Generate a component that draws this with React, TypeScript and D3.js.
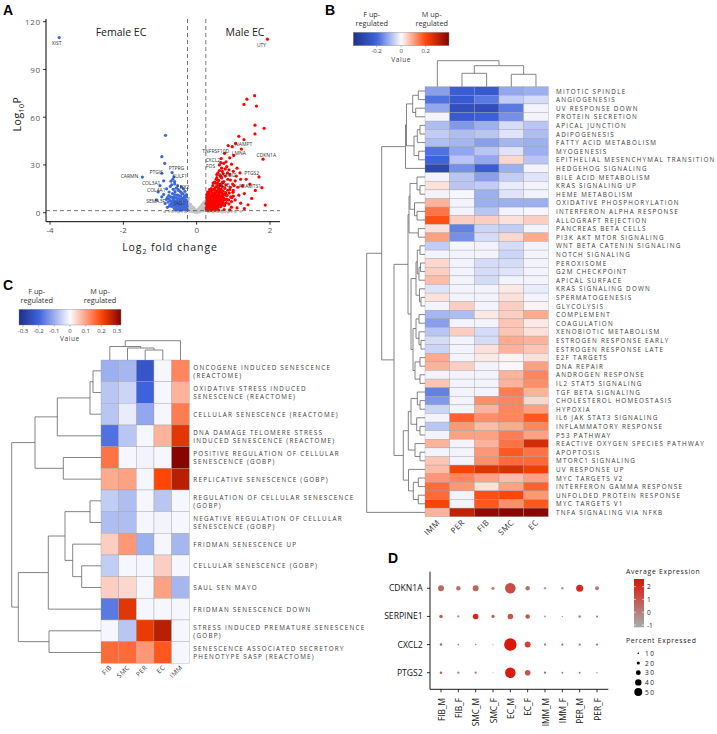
import React from "react";
import * as d3 from "d3";

const FONT = "'Open Sans', 'DejaVu Sans', sans-serif";

// ---------------- A: volcano (log2 fold change, -log10 P) ----------------
const redPts: [number, number][] = [
  [1.93,109],[1.58,73.5],[1.37,71.3],[1.29,68],[1.63,67],[1.59,55],[1.84,53],[1.59,49.5],[1.15,48],[1.29,46],[1.06,43.5],[0.86,42.2],[0.97,41.5],[1.81,33.6],[0.76,37.3],[0.9,34.5],[1.22,40],[1.01,36],[0.67,34],[1.78,15.7],[1.87,4.8],[1.7,22.5],
  [0.62,30],[0.74,31],[0.82,29],[0.95,30.5],[1.1,28],[1.18,25],[1.35,21],[1.45,18],[1.6,14],[1.3,12],[1.5,9],[1.05,20],[0.9,24],[0.7,26],[0.58,25],[0.55,22],[0.78,23],[0.85,21],[0.98,18],[1.12,16],[1.25,17],[1.0,14],[1.15,11],[0.93,10],[1.05,8],[1.2,6],[1.4,5],[0.95,3.5],[0.88,5.5],[1.3,2.5],[0.72,19],[0.65,17],[0.5,19],[0.6,14],[1.08,23],[1.2,21],[0.8,32],[0.68,28],[0.88,27],[1.0,26],[0.75,2],[0.9,1.8],[1.1,3],
  [0.27,2.1],[0.27,5.3],[0.28,3.4],[0.28,8.2],[0.29,1.9],[0.29,6.6],[0.3,4.2],[0.3,10.1],[0.31,2.8],[0.31,7.4],[0.32,5.1],[0.32,12.0],[0.33,3.3],[0.33,8.9],[0.34,1.7],[0.34,6.2],[0.35,4.6],[0.35,11.3],[0.36,2.5],[0.36,9.4],[0.37,7.0],[0.37,13.8],[0.38,3.8],[0.38,5.7],[0.39,10.6],[0.39,2.2],[0.4,8.0],[0.4,15.2],[0.41,4.4],[0.41,6.9],[0.42,12.7],[0.42,3.0],[0.43,9.8],[0.43,5.5],[0.44,17.0],[0.44,2.6],[0.45,7.7],[0.45,11.9],[0.46,4.1],[0.46,14.4],[0.47,6.3],[0.47,9.1],[0.48,3.4],[0.48,19.2],[0.49,12.2],[0.49,5.0],[0.5,8.5],[0.5,2.3],[0.51,15.8],[0.51,6.8],[0.52,10.4],[0.52,4.0],[0.53,13.1],[0.53,21.0],[0.54,7.3],[0.54,3.1],[0.55,11.0],[0.55,16.9],[0.56,5.6],[0.56,8.8],[0.57,14.0],[0.57,2.7],[0.58,9.6],[0.58,18.4],[0.59,6.1],[0.59,12.5],[0.6,4.3],[0.6,20.3],[0.61,10.8],[0.61,7.5],[0.62,15.0],[0.62,3.6],[0.63,23.5],[0.63,9.2],[0.64,5.2],[0.64,12.9],[0.65,17.8],[0.66,7.1],[0.66,10.3],[0.67,14.6],[0.67,4.8],[0.68,21.9],[0.69,8.6],[0.69,12.0],[0.7,5.9],[0.7,16.4],[0.71,10.0],[0.72,13.5],[0.73,7.8],[0.74,19.6],[0.75,11.2],[0.76,4.5],[0.77,15.3],[0.78,8.4],[0.79,12.6],[0.8,17.5],[0.81,6.4],[0.83,10.9],[0.85,14.1],[0.87,8.0],[0.89,12.3],[0.92,16.0],[0.96,9.5],[0.99,12.8],[0.3,1.6],[0.4,1.5],[0.5,1.6],[0.6,1.7],[0.35,14.5],[0.45,18.6],[0.55,24],[0.62,26.5],[0.72,24.5],[0.78,27.5],[0.84,25],[0.92,20.5],[1.02,17],[0.66,31.5],
  [0.26,3.0],[0.26,6.0],[0.27,9.5],[0.28,11.5],[0.29,4.5],[0.3,13.0],[0.31,1.9],[0.32,7.0],[0.33,5.8],[0.34,12.8],[0.35,2.0],[0.36,6.8],[0.37,3.5],[0.38,11.0],[0.39,8.0],[0.4,4.9],[0.41,13.5],[0.42,6.0],[0.43,2.2],[0.44,10.8],[0.45,5.0],[0.46,9.6],[0.47,2.9],[0.48,14.8],[0.49,7.2],[0.5,10.9],[0.51,3.7],[0.52,13.6],[0.53,5.9],[0.54,9.9],[0.55,3.6],[0.56,12.9],[0.57,7.0],[0.58,4.0],[0.59,15.6],[0.6,11.5],[0.61,5.3],[0.62,8.7],[0.63,13.9],[0.64,7.0],[0.65,10.2],[0.66,4.0],[0.67,8.4],[0.68,13.0],[0.69,5.0],[0.7,9.8],[0.72,6.6],[0.73,11.4],[0.75,8.8],[0.77,5.6],[0.8,11.0],[0.82,8.5],[0.9,14.5],[0.95,7.0],[1.0,10.5],[0.52,18.5],[0.57,20.5],[0.66,22.5],[0.7,19.0],[0.58,16.5],
];
const bluePts: [number, number][] = [
  [-3.75,110],[-0.85,48.6],[-0.95,35.2],[-0.87,31],[-1.48,22.4],[-0.95,24.8],[-0.67,25.2],[-0.65,21],[-0.6,19.5],[-0.7,19.8],[-0.62,22.5],[-0.9,20],[-1.0,17],[-1.05,13],[-0.95,10],[-1.1,8],[-0.82,15],[-0.75,13],[-0.8,9.5],[-0.72,16.5],[-0.68,17.5],
  [-0.26,2.0],[-0.27,5.1],[-0.28,3.3],[-0.29,8.0],[-0.3,1.8],[-0.31,6.4],[-0.32,4.0],[-0.33,10.2],[-0.34,2.6],[-0.35,7.5],[-0.36,5.0],[-0.37,11.8],[-0.38,3.2],[-0.39,9.0],[-0.4,1.9],[-0.41,6.1],[-0.42,4.5],[-0.43,12.9],[-0.44,2.4],[-0.45,8.2],[-0.46,6.8],[-0.47,10.5],[-0.48,3.7],[-0.49,5.6],[-0.5,14.1],[-0.51,2.1],[-0.52,7.9],[-0.53,4.3],[-0.54,11.1],[-0.55,6.0],[-0.56,3.0],[-0.57,9.4],[-0.58,5.2],[-0.59,13.2],[-0.6,7.0],[-0.61,2.7],[-0.62,10.0],[-0.63,4.8],[-0.64,8.6],[-0.65,6.3],[-0.66,12.0],[-0.67,3.9],[-0.68,9.7],[-0.7,5.5],[-0.72,7.6],[-0.74,4.1],[-0.76,10.8],[-0.78,6.7],[-0.8,3.4],[-0.83,8.3],[-0.86,5.8],[-0.9,11.5],[-0.28,11.3],[-0.32,13.4],[-0.36,15.0],[-0.42,16.2],[-0.47,13.8],[-0.52,17.0],[-0.56,15.4],[-0.6,18.1],[-0.64,14.7],[-0.35,2.1],[-0.45,1.6],[-0.55,1.7],
  [-0.26,4.0],[-0.27,7.0],[-0.29,2.8],[-0.3,10.0],[-0.31,4.8],[-0.33,6.9],[-0.34,9.3],[-0.36,3.6],[-0.37,8.4],[-0.39,5.6],[-0.4,12.0],[-0.41,3.0],[-0.43,7.7],[-0.44,10.4],[-0.46,4.4],[-0.48,8.9],[-0.5,5.2],[-0.51,11.0],[-0.53,6.5],[-0.55,9.2],[-0.57,3.8],[-0.58,7.3],[-0.6,11.4],[-0.62,5.9],[-0.63,8.0],[-0.66,4.6],[-0.69,7.0],[-0.71,9.9],[-0.73,5.0],[-0.77,8.7],
];
const greyPts: [number, number][] = [
  [-0.24,1.2],[-0.23,3.5],[-0.22,6.0],[-0.21,2.2],[-0.2,4.6],[-0.19,1.0],[-0.18,3.0],[-0.17,5.2],[-0.16,1.8],[-0.15,2.8],[-0.14,0.9],[-0.13,4.0],[-0.12,1.6],[-0.11,2.5],[-0.1,0.7],[-0.09,1.9],[-0.08,3.2],[-0.07,1.1],[-0.06,0.5],[-0.05,2.0],[-0.04,1.3],[-0.03,0.6],[-0.02,1.6],[-0.01,0.4],[0,1.0],[0.01,0.3],[0.02,1.4],[0.03,0.8],[0.04,2.1],[0.05,1.2],[0.06,0.5],[0.07,2.6],[0.08,1.5],[0.09,3.4],[0.1,0.9],[0.11,2.2],[0.12,4.1],[0.13,1.7],[0.14,3.0],[0.15,5.3],[0.16,2.0],[0.17,4.4],[0.18,1.1],[0.19,6.2],[0.2,3.3],[0.21,5.0],[0.22,2.4],[0.23,7.1],[0.24,4.0],[0.24,1.5],[-0.24,7.8],[-0.22,9.0],[-0.3,0.6],[-0.4,0.9],[-0.5,0.5],[-0.58,1.0],[-0.66,0.7],[-0.75,1.0],[-0.87,0.6],[0.32,0.7],[0.38,1.0],[0.45,0.5],[0.52,1.1],[0.58,0.6],[0.64,0.9],[0.7,0.4],[0.78,0.8],[0.86,0.5],[0.95,0.8],[1.05,0.6],[1.2,0.9],
];
// gene labels placed where they sit in the plot (fold change, -log10 P)
const geneLabels: [string, number, number][] = [
  ["XIST",-3.82,106.9],["UTY",1.77,105.5],["NAMPT",1.28,43.2],["TNFRSF10D",0.52,39.0],["LMNA",1.15,37.5],["CDKN1A",1.9,36.3],
  ["CXCL2",0.44,33.1],["FOS",0.38,29.4],["NFKBIZ",0.84,23.9],["PTGS2",1.5,25.2],["ADAMTS1",1.45,17.0],["RELB",0.74,17.4],
  ["PTGIS",-1.1,25.6],["PTPRG",-0.55,27.9],["CARMN",-1.83,23.3],["SULF1",-0.46,23.3],["COL3A1",-1.24,18.9],["LNX2",-0.37,16.4],
  ["COL4A1",-1.1,14.3],["SEMA3F",-1.12,7.4],["JAG1",-0.46,5.9],
];
const volcanoXTicks = [-4, -2, 0, 2];
const volcanoYTicks = [0, 30, 60, 90, 120];
const fcCut = 0.25;
const pCut = 1.3;

// ---------------- B: hallmark heatmap ----------------
const bCols = ["IMM", "PER", "FIB", "SMC", "EC"];
const bRows = [
  "MITOTIC SPINDLE","ANGIOGENESIS","UV RESPONSE DOWN","PROTEIN SECRETION","APICAL JUNCTION","ADIPOGENESIS","FATTY ACID METABOLISM","MYOGENESIS","EPITHELIAL MESENCHYMAL TRANSITION","HEDGEHOG SIGNALING",
  "BILE ACID METABOLISM","KRAS SIGNALING UP","HEME METABOLISM","OXIDATIVE PHOSPHORYLATION","INTERFERON ALPHA RESPONSE","ALLOGRAFT REJECTION","PANCREAS BETA CELLS","PI3K AKT MTOR SIGNALING","WNT BETA CATENIN SIGNALING","NOTCH SIGNALING",
  "PEROXISOME","G2M CHECKPOINT","APICAL SURFACE","KRAS SIGNALING DOWN","SPERMATOGENESIS","GLYCOLYSIS","COMPLEMENT","COAGULATION","XENOBIOTIC METABOLISM","ESTROGEN RESPONSE EARLY",
  "ESTROGEN RESPONSE LATE","E2F TARGETS","DNA REPAIR","ANDROGEN RESPONSE","IL2 STAT5 SIGNALING","TGF BETA SIGNALING","CHOLESTEROL HOMEOSTASIS","HYPOXIA","IL6 JAK STAT3 SIGNALING","INFLAMMATORY RESPONSE",
  "P53 PATHWAY","REACTIVE OXYGEN SPECIES PATHWAY","APOPTOSIS","MTORC1 SIGNALING","UV RESPONSE UP","MYC TARGETS V2","INTERFERON GAMMA RESPONSE","UNFOLDED PROTEIN RESPONSE","MYC TARGETS V1","TNFA SIGNALING VIA NFKB",
];
const bValues = [
  [-0.12,-0.22,-0.23,-0.11,-0.1],[-0.18,-0.23,-0.17,-0.06,-0.04],[-0.11,-0.27,-0.28,-0.17,-0.01],[-0.01,-0.23,-0.21,-0.14,-0.01],[-0.08,-0.13,-0.1,-0.04,-0.07],
  [-0.06,-0.08,-0.07,-0.03,-0.08],[-0.08,-0.09,-0.12,-0.09,-0.1],[-0.18,-0.11,-0.07,-0.03,-0.1],[-0.2,-0.07,-0.11,0.04,-0.07],[-0.3,-0.14,-0.22,-0.1,-0.01],
  [-0.01,-0.07,-0.12,-0.06,-0.03],[0.03,-0.07,-0.06,-0.02,-0.01],[-0.01,-0.005,-0.1,-0.03,-0.01],[0.08,-0.01,-0.1,-0.1,-0.1],[0.15,-0.01,-0.07,-0.01,-0.005],
  [0.19,0.05,0.05,0.03,0.05],[0.03,-0.16,-0.05,-0.06,-0.01],[0.1,-0.14,-0.04,0.04,0.09],[-0.06,-0.005,-0.01,-0.04,-0.01],[-0.01,-0.01,-0.01,-0.05,-0.01],
  [0.04,-0.01,-0.04,-0.04,-0.01],[0.05,-0.01,-0.04,-0.03,-0.01],[0.07,-0.01,-0.04,-0.01,-0.01],[-0.03,-0.01,-0.01,0.02,-0.02],[0.03,-0.01,-0.01,0.03,-0.01],
  [-0.01,0.05,-0.01,0.05,0.01],[-0.09,-0.08,0.02,0.05,0.09],[-0.12,-0.01,-0.01,0.06,0.02],[-0.07,0.05,-0.04,0.06,0.03],[-0.04,-0.01,-0.04,0.09,0.08],
  [-0.05,-0.01,0.03,0.08,0.06],[0.09,-0.01,0.02,0.01,0.03],[0.08,0.05,-0.01,0.005,0.1],[-0.01,-0.01,-0.01,0.08,0.13],[0.06,-0.01,-0.01,0.08,0.12],
  [-0.16,-0.01,-0.01,0.14,0.08],[-0.13,-0.01,0.12,0.13,0.04],[-0.05,-0.01,0.08,0.13,0.1],[-0.01,0.17,0.12,0.13,0.18],[-0.07,0.11,0.07,0.09,0.13],
  [-0.01,0.1,0.1,0.14,0.1],[0.08,-0.01,0.08,0.15,0.27],[-0.01,-0.01,0.11,0.18,0.15],[0.06,-0.01,0.12,0.16,0.16],[0.07,0.21,0.25,0.26,0.22],
  [0.11,0.13,0.1,0.07,0.1],[0.16,0.11,0.03,0.1,0.17],[0.16,-0.01,0.19,0.2,0.11],[0.21,-0.01,0.18,0.12,0.18],[0.08,0.3,0.37,0.38,0.38],
];
type Tree = number | [Tree, Tree, number];
const bRowTree: Tree = [
  [
    [[[[0,1,6.7],[2,3,9.3],12.3],[[[4,5,5],6,7.7],[7,8,6.3],11],18.5],9,19.5],
    [
      [
        [[[10,[11,12,5],8],[13,[14,15,8],10.5],15],[16,17,6.7],16],
        [[[[18,19,5],[[20,21,4.5],22,6],7.7],[23,[24,25,4],5.5],9],[[[26,27,6],[28,[29,30,4],6],9],[[31,32,5],[33,34,5],10],12],14],
        17,
      ],
      [[[[35,[36,37,5],7.7],[38,[39,40,5],8.3],14],[41,[42,43,5],10],16.7],[44,[[45,46,6.7],[47,48,6.7],11.7],16.5],21.7],
      31,
    ],
    43.3,
  ],
  49,
  58.3,
];
const bColTree: Tree = [0, [[1, 2, 13.4], [3, 4, 12.4], 21], 26];
const bLegendTicks = [-0.2, 0, 0.2];

// ---------------- C: senescence heatmap ----------------
const cCols = ["FIB", "SMC", "PER", "EC", "IMM"];
const cRows: string[][] = [
  ["ONCOGENE INDUCED SENESCENCE", "(REACTOME)"],
  ["OXIDATIVE STRESS INDUCED", "SENESCENCE (REACTOME)"],
  ["CELLULAR SENESCENCE (REACTOME)"],
  ["DNA DAMAGE TELOMERE STRESS", "INDUCED SENESCENCE (REACTOME)"],
  ["POSITIVE REGULATION OF CELLULAR", "SENESCENCE (GOBP)"],
  ["REPLICATIVE SENESCENCE (GOBP)"],
  ["REGULATION OF CELLULAR SENESCENCE", "(GOBP)"],
  ["NEGATIVE REGULATION OF CELLULAR", "SENESCENCE (GOBP)"],
  ["FRIDMAN SENESCENCE UP"],
  ["CELLULAR SENESCENCE (GOBP)"],
  ["SAUL SEN MAYO"],
  ["FRIDMAN SENESCENCE DOWN"],
  ["STRESS INDUCED PREMATURE SENESCENCE", "(GOBP)"],
  ["SENESCENCE ASSOCIATED SECRETORY", "PHENOTYPE SASP (REACTOME)"],
];
const cValues = [
  [-0.1,-0.09,-0.23,-0.005,0.13],[-0.07,-0.05,-0.2,-0.005,0.08],[-0.07,-0.02,-0.11,-0.005,0.14],[-0.18,-0.07,-0.005,0.08,0.23],
  [0.15,-0.005,-0.01,-0.005,0.32],[0.09,0.1,-0.005,0.2,0.27],[-0.06,-0.08,-0.005,-0.07,-0.005],[-0.08,-0.08,-0.005,-0.01,-0.005],
  [0.05,0.11,-0.1,-0.005,-0.09],[-0.06,-0.005,-0.005,0.05,-0.005],[0.05,0.04,-0.005,0.1,-0.09],[-0.17,0.23,-0.005,-0.005,-0.005],
  [-0.005,-0.07,0.22,0.27,-0.005],[0.16,0.16,0.11,0.18,-0.005],
];
const cRowTree: Tree = [
  [[[[0,1,8],2,11],3,43.7],[4,5,37.7],66],
  [[[[6,7,11],[8,[9,10,19.3],28.3],36],11,52.7],[12,13,52],82.7],
  89.3,
];
const cColTree: Tree = [[0, [1, [2, 3, 10], 12], 13.5], 4, 19.3];
const cLegendTicks = [-0.3, -0.2, -0.1, 0, 0.1, 0.2, 0.3];

// ---------------- D: dot plot ----------------
const dGenes = ["CDKN1A", "SERPINE1", "CXCL2", "PTGS2"];
const dGroups = ["FIB_M","FIB_F","SMC_M","SMC_F","EC_M","EC_F","IMM_M","IMM_F","PER_M","PER_F"];
const dPct = [
  [37,28,37,20,66,28,16,16,44,25],
  [22,14,35,20,35,28,12,10,16,12],
  [16,11,10,7,78,37,14,14,14,14],
  [16,14,14,7,66,35,14,12,12,9],
];
const dAvg = [
  [0.6,0.3,0.6,-0.2,1.2,0.3,-0.8,-0.7,2.0,0.1],
  [0.8,-0.2,2.2,0.8,1.0,1.0,-0.7,-0.8,0.0,0.5],
  [0.7,0.2,-0.4,-0.9,2.5,1.4,0.4,0.4,0.4,0.4],
  [0.8,0.3,0.3,-1.0,2.4,1.0,0.5,0.3,0.3,-0.2],
];
const dColorTicks = [2, 1, 0, -1];
const dSizeTicks = [10, 20, 30, 40, 50];

// ---------------- helpers ----------------
function dendroSegments(t: Tree, leafPos: (i: number) => number, hPos: (h: number) => number) {
  const segs: number[][] = [];
  const rec = (n: Tree): { p: number; h: number } => {
    if (typeof n === "number") return { p: leafPos(n), h: hPos(0) };
    const l = rec(n[0]);
    const r = rec(n[1]);
    const h = hPos(n[2]);
    segs.push([l.p, l.h, l.p, h], [l.p, h, r.p, h], [r.p, h, r.p, r.h]);
    return { p: (l.p + r.p) / 2, h };
  };
  rec(t);
  return segs;
}
const rowPath = (s: number[][]) => s.map((d) => `M${d[1]},${d[0]}L${d[3]},${d[2]}`).join("");
const colPath = (s: number[][]) => s.map((d) => `M${d[0]},${d[1]}L${d[2]},${d[3]}`).join("");

const labelStyle = { fontFamily: FONT, fontSize: 6.3, letterSpacing: 1.25, fill: "#3a3a3a" } as const;

function Volcano() {
  const x = d3.scaleLinear().domain([-4, 2]).range([50, 270]);
  const y = d3.scaleLinear().domain([0, 120]).range([212.7, 21.7]);
  const left = 46, right = 280, top = 19, bottom = 221.7;
  return (
    <g>
      <text x={3} y={15} fontFamily="Arial, 'Liberation Sans', sans-serif" fontWeight="bold" fontSize={14}>A</text>
      {greyPts.map((d, i) => <circle key={"g" + i} cx={x(d[0])} cy={y(d[1])} r={1.6} fill="#c4c4c4" />)}
      {bluePts.map((d, i) => <circle key={"b" + i} cx={x(d[0])} cy={y(d[1])} r={1.6} fill="#3e67dc" />)}
      {redPts.map((d, i) => <circle key={"r" + i} cx={x(d[0])} cy={y(d[1])} r={1.6} fill="#ff0000" />)}
      <g stroke="#555" strokeWidth={0.8} strokeDasharray="4,3">
        <line x1={x(-fcCut)} x2={x(-fcCut)} y1={top} y2={bottom} />
        <line x1={x(fcCut)} x2={x(fcCut)} y1={top} y2={bottom} />
        <line x1={left} x2={right} y1={y(pCut)} y2={y(pCut)} />
      </g>
      {geneLabels.map(([g, fx, fy]) => (
        <text key={g} x={x(fx)} y={y(fy)} textAnchor="middle" dominantBaseline="central" fontFamily={FONT} fontSize={5} fill="#333">{g}</text>
      ))}
      <line x1={left} x2={left} y1={top} y2={bottom} stroke="#000" strokeWidth={1} />
      <line x1={left} x2={right} y1={bottom} y2={bottom} stroke="#000" strokeWidth={1} />
      {volcanoYTicks.map((t) => (
        <g key={t}>
          <line x1={left - 3} x2={left} y1={y(t)} y2={y(t)} stroke="#000" strokeWidth={0.8} />
          <text x={left - 5} y={y(t)} textAnchor="end" dominantBaseline="central" fontFamily={FONT} fontSize={8} letterSpacing={0.8} fill="#555">{t}</text>
        </g>
      ))}
      {volcanoXTicks.map((t) => (
        <g key={t}>
          <line x1={x(t)} x2={x(t)} y1={bottom} y2={bottom + 3} stroke="#000" strokeWidth={0.8} />
          <text x={x(t)} y={bottom + 11} textAnchor="middle" fontFamily={FONT} fontSize={8} fill="#555">{t}</text>
        </g>
      ))}
      <text x={121} y={36} textAnchor="middle" fontFamily={FONT} fontSize={10.5} fill="#222">Female EC</text>
      <text x={245} y={36} textAnchor="middle" fontFamily={FONT} fontSize={10.5} fill="#222">Male EC</text>
      <text transform="translate(21,114) rotate(-90)" textAnchor="middle" fontFamily={FONT} fontSize={10.5} letterSpacing={0.5} fill="#222">
        Log<tspan fontSize={7} dy={3}>10</tspan><tspan dy={-3}>P</tspan>
      </text>
      <text x={170} y={251} textAnchor="middle" fontFamily={FONT} fontSize={10.5} letterSpacing={0.9} fill="#222">
        Log<tspan fontSize={7} dy={3}>2</tspan><tspan dy={-3}> fold change</tspan>
      </text>
    </g>
  );
}

function Legend({ id, x0, x1, y0, y1, scale, ticks, fmt, titleL, titleR, color }: any) {
  const cb = d3.scaleLinear().domain(scale).range([x0, x1]);
  const stops = d3.range(0, 1.0001, 0.05).map((t) => scale[0] + t * (scale[1] - scale[0]));
  const cx = (x0 + x1) / 2;
  return (
    <g>
      <defs>
        <linearGradient id={id} x1="0" x2="1" y1="0" y2="0">
          {stops.map((v, i) => <stop key={i} offset={`${(i / (stops.length - 1)) * 100}%`} stopColor={color(v)} />)}
        </linearGradient>
      </defs>
      <rect x={x0} y={y0} width={x1 - x0} height={y1 - y0} fill={`url(#${id})`} stroke="#888" strokeWidth={0.4} />
      {ticks.map((t: number) => (
        <g key={t}>
          <line x1={cb(t)} x2={cb(t)} y1={y1} y2={y1 + 1.5} stroke="#666" strokeWidth={0.5} />
          <text x={cb(t)} y={y1 + 7.5} textAnchor="middle" fontFamily={FONT} fontSize={6} fill="#444">{fmt(t)}</text>
        </g>
      ))}
      <text x={cx} y={y1 + 16} textAnchor="middle" fontFamily={FONT} fontSize={6.5} letterSpacing={0.6} fill="#444">Value</text>
      <text x={titleL} y={y0 - 15.5} textAnchor="middle" fontFamily={FONT} fontSize={7.3} fill="#333">F up-</text>
      <text x={titleL} y={y0 - 6} textAnchor="middle" fontFamily={FONT} fontSize={7.3} fill="#333">regulated</text>
      <text x={titleR} y={y0 - 15.5} textAnchor="middle" fontFamily={FONT} fontSize={7.3} fill="#333">M up-</text>
      <text x={titleR} y={y0 - 6} textAnchor="middle" fontFamily={FONT} fontSize={7.3} fill="#333">regulated</text>
    </g>
  );
}

function HeatB() {
  const x = d3.scaleBand().domain(bCols).range([425, 548.3]);
  const y = d3.scaleBand<number>().domain(d3.range(bRows.length)).range([86.7, 516.7]);
  const color = d3.scaleLinear<string>().domain([-0.4, -0.2, 0, 0.2, 0.4]).range(["#1e2d84", "#3d62dc", "#fbfbff", "#ff4606", "#7c0000"]).clamp(true);
  const hRow = d3.scaleLinear().domain([0, 58.3]).range([425, 366.7]);
  const hCol = d3.scaleLinear().domain([0, 26]).range([86.7, 60.7]);
  const rowSegs = dendroSegments(bRowTree, (i) => y(i)! + y.bandwidth() / 2, hRow);
  const colSegs = dendroSegments(bColTree, (i) => x(bCols[i])! + x.bandwidth() / 2, hCol);
  return (
    <g>
      <text x={325} y={15} fontFamily="Arial, 'Liberation Sans', sans-serif" fontWeight="bold" fontSize={14}>B</text>
      <Legend id="gradB" x0={353.3} x1={449} y0={32.3} y1={45.7} scale={[-0.39, 0.39]} ticks={bLegendTicks}
        fmt={(t: number) => (t === 0 ? "0" : String(t))} titleL={371.7} titleR={431.7} color={color} />
      {bValues.map((row, i) => row.map((v, j) => (
        <rect key={i + "-" + j} x={x(bCols[j])} y={y(i)} width={x.bandwidth()} height={y.bandwidth()} fill={color(v)} stroke="#9c9c9c" strokeWidth={0.35} />
      )))}
      <path d={rowPath(rowSegs)} stroke="#666" strokeWidth={0.8} fill="none" />
      <path d={colPath(colSegs)} stroke="#666" strokeWidth={0.8} fill="none" />
      {bRows.map((r, i) => (
        <text key={r} x={556} y={y(i)! + y.bandwidth() / 2} dominantBaseline="central" {...labelStyle}>{r}</text>
      ))}
      {bCols.map((c) => (
        <text key={c} transform={`translate(${x(c)! + x.bandwidth() / 2 + 3},${523}) rotate(-45)`} textAnchor="end"
          fontFamily={FONT} fontSize={8} letterSpacing={0.5} fill="#333">{c}</text>
      ))}
    </g>
  );
}

function HeatC() {
  const x = d3.scaleBand().domain(cCols).range([101, 189.3]);
  const y = d3.scaleBand<number>().domain(d3.range(cRows.length)).range([360, 663.3]);
  const color = d3.scaleLinear<string>().domain([-0.33, -0.2, 0, 0.2, 0.33]).range(["#1e2d84", "#3d62dc", "#fbfbff", "#ff4606", "#7c0000"]).clamp(true);
  const hRow = d3.scaleLinear().domain([0, 89.3]).range([101, 11.7]);
  const hCol = d3.scaleLinear().domain([0, 19.3]).range([360, 340.7]);
  const rowSegs = dendroSegments(cRowTree, (i) => y(i)! + y.bandwidth() / 2, hRow);
  const colSegs = dendroSegments(cColTree, (i) => x(cCols[i])! + x.bandwidth() / 2, hCol);
  return (
    <g>
      <text x={3} y={290} fontFamily="Arial, 'Liberation Sans', sans-serif" fontWeight="bold" fontSize={14}>C</text>
      <Legend id="gradC" x0={19} x1={121} y0={309.3} y1={325} scale={[-0.325, 0.325]} ticks={cLegendTicks}
        fmt={(t: number) => (t === 0 ? "0" : String(t))} titleL={36.7} titleR={100} color={color} />
      {cValues.map((row, i) => row.map((v, j) => (
        <rect key={i + "-" + j} x={x(cCols[j])} y={y(i)} width={x.bandwidth()} height={y.bandwidth()} fill={color(v)} stroke="#9c9c9c" strokeWidth={0.35} />
      )))}
      <path d={rowPath(rowSegs)} stroke="#666" strokeWidth={0.8} fill="none" />
      <path d={colPath(colSegs)} stroke="#666" strokeWidth={0.8} fill="none" />
      {cRows.map((lines, i) => {
        const cy = y(i)! + y.bandwidth() / 2;
        return lines.map((l, k) => (
          <text key={i + "-" + k} x={193.3} y={lines.length === 1 ? cy : cy + (k === 0 ? -3.8 : 4.4)} dominantBaseline="central" {...labelStyle}>{l}</text>
        ));
      })}
      {cCols.map((c) => (
        <text key={c} transform={`translate(${x(c)! + x.bandwidth() / 2 + 2.5},${668}) rotate(-45)`} textAnchor="end"
          fontFamily={FONT} fontSize={6.5} letterSpacing={0.4} fill="#333">{c}</text>
      ))}
    </g>
  );
}

function DotPlot() {
  const x = d3.scalePoint().domain(dGroups).range([441, 597]);
  const y = d3.scalePoint().domain(dGenes).range([588.3, 672.7]);
  const r = d3.scaleLinear().domain([0, 80]).range([0, 6.4]);
  const color = d3.scaleLinear<string>().domain([-1, 2.5]).range(["#a8a8a8", "#d9170a"]).clamp(true);
  const cb = d3.scaleLinear().domain([-1.18, 2.6]).range([627.3, 579]);
  const axL = 430, axB = 689.3;
  const stops = d3.range(0, 1.0001, 0.1).map((t) => -1.18 + t * 3.78);
  return (
    <g>
      <text x={388} y={563} fontFamily="Arial, 'Liberation Sans', sans-serif" fontWeight="bold" fontSize={14}>D</text>
      <line x1={axL} x2={axL} y1={571.7} y2={axB} stroke="#000" strokeWidth={0.9} />
      <line x1={axL} x2={608.3} y1={axB} y2={axB} stroke="#000" strokeWidth={0.9} />
      {dGenes.map((g) => (
        <g key={g}>
          <line x1={axL - 3} x2={axL} y1={y(g)} y2={y(g)} stroke="#000" strokeWidth={0.8} />
          <text x={422.7} y={y(g)} textAnchor="end" dominantBaseline="central" fontFamily={FONT} fontSize={8.6} fill="#111">{g}</text>
        </g>
      ))}
      {dGroups.map((c) => (
        <g key={c}>
          <line x1={x(c)} x2={x(c)} y1={axB} y2={axB + 3} stroke="#000" strokeWidth={0.8} />
          <text transform={`translate(${x(c)},${698}) rotate(-90)`} textAnchor="end" dominantBaseline="central" fontFamily={FONT} fontSize={8.3} fill="#111">{c}</text>
        </g>
      ))}
      {dPct.map((row, i) => row.map((p, j) => (
        <circle key={i + "-" + j} cx={x(dGroups[j])} cy={y(dGenes[i])} r={r(p)} fill={color(dAvg[i][j])} />
      )))}
      <text x={626} y={574} fontFamily={FONT} fontSize={6.8} letterSpacing={0.7} fill="#222">Average Expression</text>
      <defs>
        <linearGradient id="gradD" x1="0" x2="0" y1="1" y2="0">
          {stops.map((v, i) => <stop key={i} offset={`${i * 10}%`} stopColor={color(v)} />)}
        </linearGradient>
      </defs>
      <rect x={634} y={579} width={10} height={48.3} fill="url(#gradD)" />
      {dColorTicks.map((t) => (
        <g key={t}>
          <line x1={634} x2={636} y1={cb(t)} y2={cb(t)} stroke="#fff" strokeWidth={0.6} />
          <line x1={642} x2={644} y1={cb(t)} y2={cb(t)} stroke="#fff" strokeWidth={0.6} />
          <text x={647} y={cb(t)} dominantBaseline="central" fontFamily={FONT} fontSize={6.5} fill="#222">{t}</text>
        </g>
      ))}
      <text x={626} y={643} fontFamily={FONT} fontSize={6.8} letterSpacing={0.7} fill="#222">Percent Expressed</text>
      {dSizeTicks.map((t, i) => (
        <g key={t}>
          <circle cx={638.3} cy={653.3 + i * 9.7} r={r(t)} fill="#000" />
          <text x={645} y={653.3 + i * 9.7} dominantBaseline="central" fontFamily={FONT} fontSize={6.5} letterSpacing={1.6} fill="#222">{t}</text>
        </g>
      ))}
    </g>
  );
}

export default function App() {
  return (
    <svg width={717} height={734} style={{ position: "absolute", left: 0, top: 0, background: "#fff" }}>
      <rect width={717} height={734} fill="#fff" />
      <Volcano />
      <HeatB />
      <HeatC />
      <DotPlot />
    </svg>
  );
}
